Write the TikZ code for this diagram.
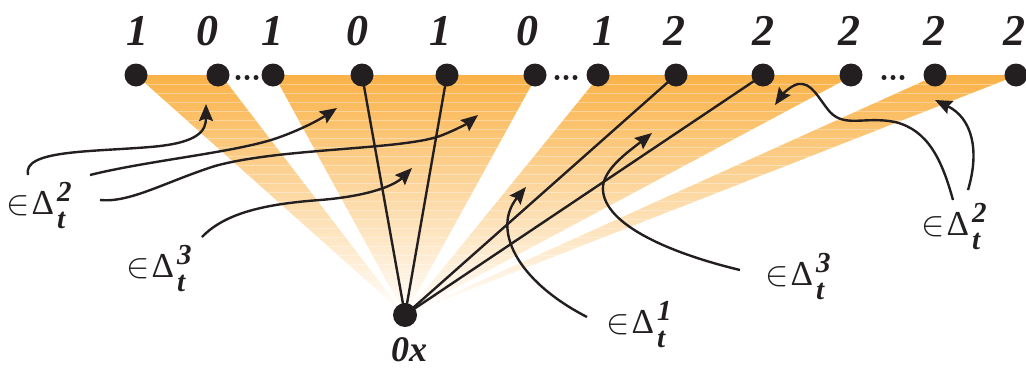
\RequirePackage{fix-cm}
\documentclass[tikz,border=0pt]{standalone}
\usepackage{fontspec}
\setmainfont{Liberation Serif}
\usetikzlibrary{arrows.meta}
\definecolor{ink}{RGB}{35,31,32}
\definecolor{fan}{RGB}{250,178,72}
\newcommand{\dsz}{\fontsize{35}{35}\selectfont}
\newcommand{\ssz}{\fontsize{29}{29}\selectfont\bfseries\itshape}
\newcommand{\mydl}[1]{\dsz$\in$\kern2pt Δ\kern3pt\rlap{\raisebox{13pt}{\ssz #1}}\raisebox{-14pt}{\ssz t}}
\begin{document}
\begin{tikzpicture}[x=1pt,y=-1pt,
  dotn/.style={circle,fill=ink,inner sep=0pt,minimum size=23pt},
  sdot/.style={circle,fill=ink,inner sep=0pt,minimum size=5pt},
  digit/.style={anchor=base,inner sep=0pt,font=\fontsize{44}{44}\selectfont\bfseries\itshape,text=ink},
  ray/.style={draw=ink,line width=2.4pt},
  pointer/.style={draw=ink,line width=2.4pt,-{Stealth[length=17pt,width=14pt,inset=2.5pt]}},
  dlab/.style={anchor=base west,inner sep=0pt,text=ink}
]
\useasboundingbox (0,0) rectangle (1026,370);
\coordinate (apex) at (405,315);
% fans
\foreach \a/\b in {136/221,274/537,600/854,937/1018}
  \shade[top color=fan,bottom color=white] (\a,75) -- (\b,75) -- (apex) -- cycle;
\begin{scope}
\clip (136,75) -- (221,75) -- (apex) -- cycle (274,75) -- (537,75) -- (apex) -- cycle
      (600,75) -- (854,75) -- (apex) -- cycle (937,75) -- (1018,75) -- (apex) -- cycle;
\foreach \y in {84,93,...,310}
  \draw[white,opacity=0.35,line width=0.8pt] (100,\y) -- (1026,\y);
\end{scope}
% top dots
\foreach \n/\x in {1/136,2/218,3/273,4/362,5/447,6/535,7/598,8/676,9/763,10/851,11/935,12/1016}
  \node[dotn] (d\n) at (\x,75) {};
\foreach \n/\x in {1/238,2/247,3/256,4/557,5/566,6/575,7/884,8/893,9/902}
  \node[sdot] (e\n) at (\x,77.5) {};
\node[dotn,minimum size=24pt] (o) at (apex) {};
% labels
\foreach \n/\x/\t in {1/137/1,2/207/0,3/272/1,4/357/0,5/440/1,6/527/0,7/603/1,8/674/2,9/763/2,10/849/2,11/934/2,12/1014/2}
  \node[digit] (l\n) at (\x,45) {\t};
\node[digit,font=\fontsize{36}{36}\selectfont\bfseries\itshape] (ol) at (409,361) {0x};
% rays
\draw[ray] (o.center) -- (d4.center);
\draw[ray] (o.center) -- (d5.center);
\draw[ray] (o.center) -- (d8.center);
\draw[ray] (o.center) -- (d9.center);
% delta labels
\node[dlab] (L2a) at (6,214) {\mydl{2}};
\node[dlab] (L3a) at (126,277) {\mydl{3}};
\node[dlab] (L1) at (606,333) {\mydl{1}};
\node[dlab] (L3b) at (765,285) {\mydl{3}};
\node[dlab] (L2b) at (921,235) {\mydl{2}};
% arrow ends
\coordinate (s1) at (28,175);  \coordinate (t1) at (206,104);
\coordinate (s2) at (90,175);  \coordinate (t2) at (337,108);
\coordinate (s3) at (100,200); \coordinate (t3) at (478,115);
\coordinate (s4) at (202,237); \coordinate (t4) at (412,168);
\coordinate (s5) at (587,317); \coordinate (t5) at (526,187);
\coordinate (s6) at (740,270); \coordinate (t6) at (652,133);
\coordinate (s7) at (953,200); \coordinate (t7) at (775,105);
\coordinate (s8) at (968,190); \coordinate (t8) at (935,100);
\draw[pointer] (s1) .. controls (22,150) and (90,152) .. (150,147) .. controls (200,143) and (206,130) .. (t1);
\draw[pointer] (s2) .. controls (150,160) and (240,152) .. (280,137) .. controls (305,128) and (322,118) .. (t2);
\draw[pointer] (s3) .. controls (130,203) and (165,182) .. (215,166) .. controls (280,148) and (400,150) .. (440,136) .. controls (458,129) and (468,123) .. (t3);
\draw[pointer] (s4) .. controls (225,213) and (265,204) .. (320,200) .. controls (370,196) and (395,185) .. (t4);
\draw[pointer] (s5) .. controls (515,280) and (492,228) .. (t5);
\draw[pointer] (s6) .. controls (665,252) and (600,222) .. (603,186) .. controls (605,168) and (628,152) .. (t6);
\draw[pointer] (s7) .. controls (942,160) and (928,130) .. (895,122) .. controls (865,116) and (845,128) .. (830,112) .. controls (818,98) and (812,82) .. (798,84) .. controls (790,86) and (782,95) .. (t7);
\draw[pointer] (s8) .. controls (980,150) and (972,118) .. (t8);
\end{tikzpicture}
\end{document}
